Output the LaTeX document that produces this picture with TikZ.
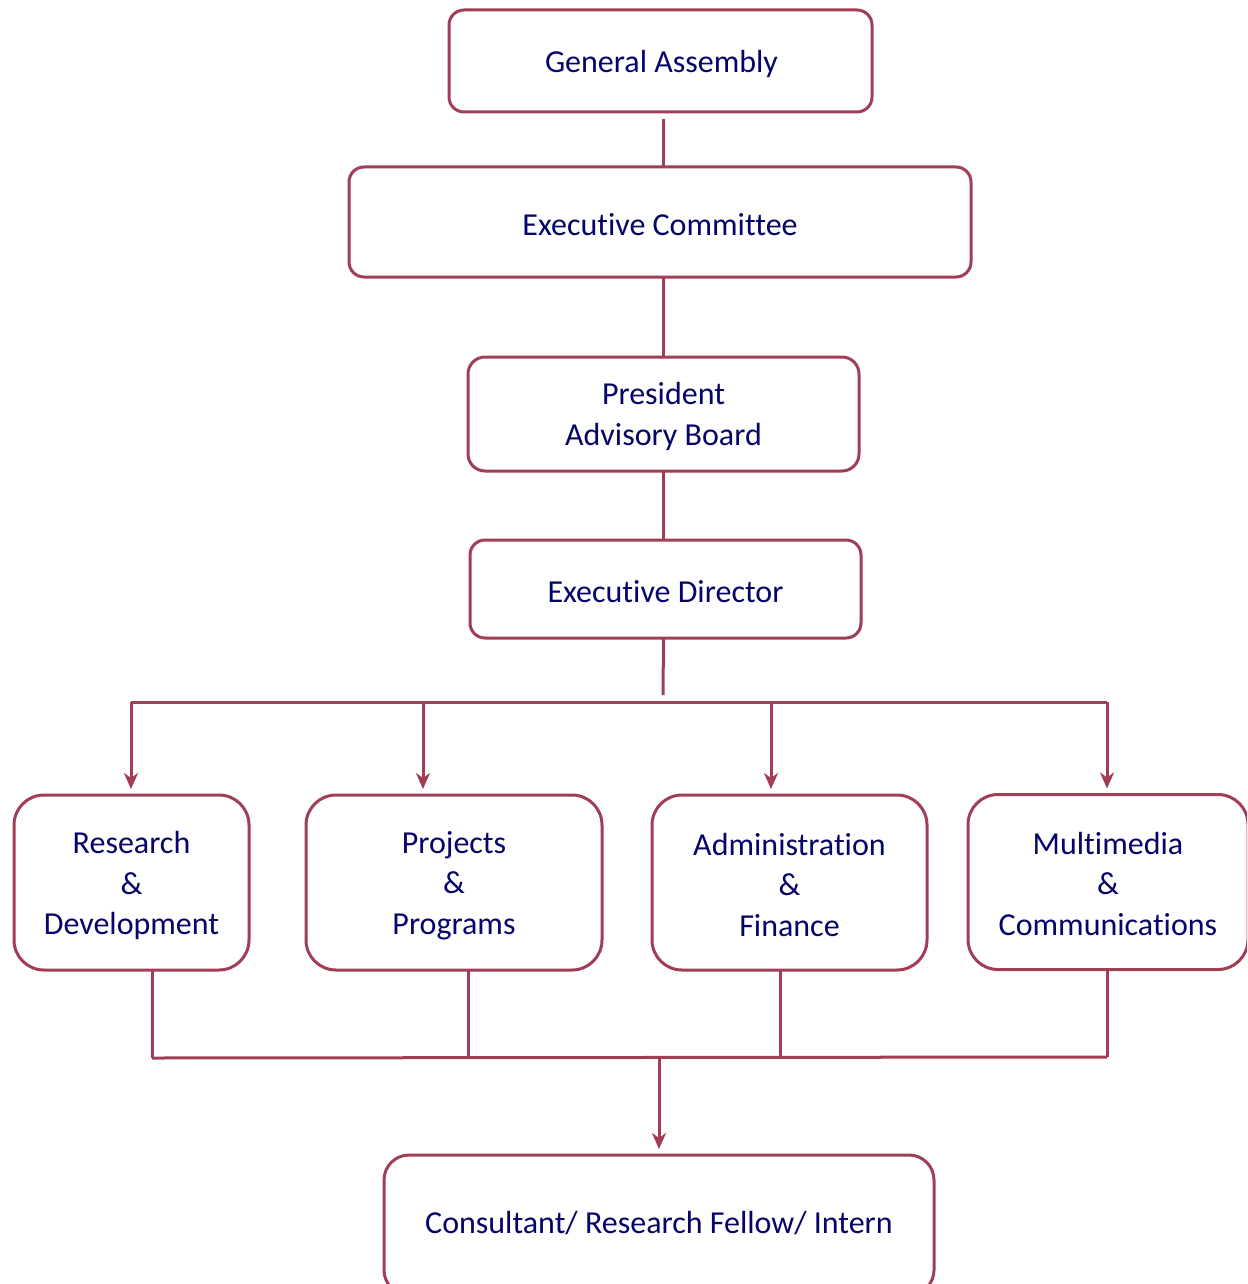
\documentclass[tikz,border=0pt]{standalone}
\usepackage{fontspec}
\setmainfont[Ligatures=NoCommon]{Carlito}
\usetikzlibrary{arrows.meta}
\definecolor{edge}{RGB}{160,62,86}
\definecolor{ink}{RGB}{5,5,105}
\tikzset{
  box/.style={draw=edge, line width=3pt, fill=white, inner sep=0pt, outer sep=0pt},
  txt/.style={text=ink, align=center, inner sep=0pt, font=\fontsize{32}{40.5}\selectfont},
  link/.style={draw=edge, line width=3pt},
  arr/.style={link, -{Stealth[length=16pt,width=14pt,inset=5pt]}, shorten >=6pt}
}
\begin{document}
\begin{tikzpicture}[x=1pt,y=-1pt]
\useasboundingbox (0,0) rectangle (1247,1284);
\clip (0,0) rectangle (1247,1284);
% top chain
\node[box, rounded corners=15pt, minimum width=423pt, minimum height=102pt] (ga) at (660.5,61) {};
\node[box, rounded corners=15pt, minimum width=622pt, minimum height=110pt] (ec) at (660,222) {};
\node[box, rounded corners=17pt, minimum width=391pt, minimum height=114pt] (pr) at (663.5,414) {};
\node[box, rounded corners=15pt, minimum width=391pt, minimum height=98pt] (ed) at (665.5,589) {};
\node[txt] (gat) at ([shift={(1pt,-3pt)}]ga.center) {General Assembly};
\node[txt] (ect) at ([yshift=-2.5pt]ec.center) {Executive Committee};
\node[txt] (prt) at ([yshift=-2.5pt]pr.center) {President\\Advisory Board};
\node[txt] (edt) at ([yshift=-2.5pt]ed.center) {Executive Director};
% departments
\node[box, rounded corners=30pt, minimum width=235pt, minimum height=175pt] (rd) at (131.5,882.5) {};
\node[box, rounded corners=30pt, minimum width=296pt, minimum height=175pt] (pp) at (454,882.5) {};
\node[box, rounded corners=30pt, minimum width=275pt, minimum height=175pt] (af) at (789.5,882.5) {};
\node[box, rounded corners=30pt, minimum width=280pt, minimum height=175pt] (mc) at (1108,882) {};
\node[txt] (rdt) at ([yshift=-3pt]rd.center) {Research\\\&\\Development};
\node[txt] (ppt) at ([yshift=-3pt]pp.center) {Projects\\\&\\ Programs};
\node[txt] (aft) at ([yshift=-2pt]af.center) {Administration\\\&\\Finance};
\node[txt] (mct) at ([yshift=-1.5pt]mc.center) {Multimedia\\\&\\Communications};
% bottom
\node[box, rounded corners=25pt, minimum width=550pt, minimum height=140pt] (cr) at (659,1225) {};
\node[txt] (crt) at (659,1223) {Consultant/ Research Fellow/ Intern};
% links top
\draw[link] ([yshift=-7pt]ga.south -| pr.north) -- (ec.north -| pr.north);
\draw[link] (ec.south -| pr.north) -- (pr.north);
\draw[link] (pr.south) -- (pr.south |- ed.north);
\coordinate (edb) at (663,695);
\draw[link] (pr.south |- ed.south) -- (edb);
\coordinate (b1) at (131,702);
\coordinate (b2) at (423,702);
\coordinate (b3) at (771,702);
\coordinate (b4) at (1107,702);
\draw[link] (b1) -- (b4);
\draw[arr] (b1) -- (b1 |- rd.north);
\draw[arr] (b2) -- (b2 |- pp.north);
\draw[arr] (b3) -- (b3 |- af.north);
\draw[arr] (b4) -- (b4 |- mc.north);
% links bottom
\coordinate (c1) at (152,1058);
\coordinate (c2) at (468,1057);
\coordinate (c3) at (780,1057);
\coordinate (c4) at (1107,1057);
\draw[link] (c1 |- rd.south) -- (c1);
\draw[link] (c2 |- pp.south) -- (c2);
\draw[link] (c3 |- af.south) -- (c3);
\draw[link] (c4 |- mc.south) -- (c4);
\draw[link] (c1) -- (c4);
\coordinate (cm) at (659,1058);
\draw[arr] (cm) -- (cr.north);
\end{tikzpicture}
\end{document}
